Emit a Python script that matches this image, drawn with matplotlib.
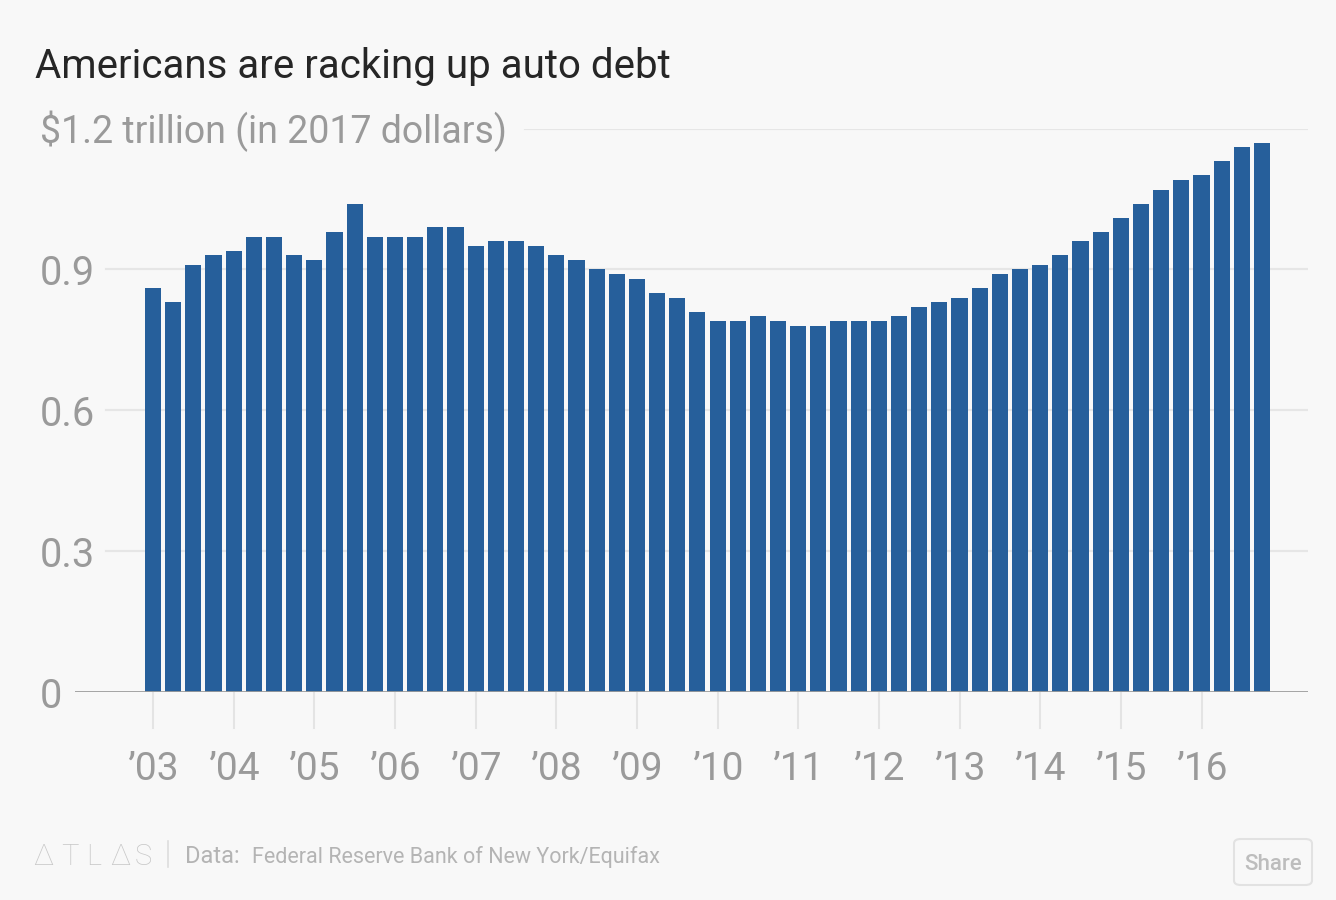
import matplotlib
matplotlib.use("Agg")
import matplotlib.pyplot as plt
from matplotlib.patches import FancyBboxPatch
import numpy as np

# ---- data ----
quarters = [f"{y} Q{q}" for y in range(2003, 2017) for q in range(1, 5)]
debt = [
    0.86, 0.83, 0.91, 0.93, 0.94, 0.97, 0.97, 0.93,
    0.92, 0.98, 1.04, 0.97, 0.97, 0.97, 0.99, 0.99,
    0.95, 0.96, 0.96, 0.95, 0.93, 0.92, 0.90, 0.89,
    0.88, 0.85, 0.84, 0.81, 0.79, 0.79, 0.80, 0.79,
    0.78, 0.78, 0.79, 0.79, 0.79, 0.80, 0.82, 0.83,
    0.84, 0.86, 0.89, 0.90, 0.91, 0.93, 0.96, 0.98,
    1.01, 1.04, 1.07, 1.09, 1.10, 1.13, 1.16, 1.17,
]
year_labels = ["’03", "’04", "’05", "’06", "’07", "’08", "’09", "’10",
               "’11", "’12", "’13", "’14", "’15", "’16"]
y_ticks = [0, 0.3, 0.6, 0.9, 1.2]
y_tick_labels = ["0", "0.3", "0.6", "0.9", "$1.2 trillion (in 2017 dollars)"]

title = "Americans are racking up auto debt"
source = "Federal Reserve Bank of New York/Equifax"

# ---- style ----
W, H = 1336, 900
BG = "#f8f8f8"
BAR = "#265f9b"
GRID = "#e6e6e6"
TICKC = "#9a9a9a"
FONT = "Roboto"

fig = plt.figure(figsize=(W / 100, H / 100), dpi=100, facecolor=BG)

def fx(px):
    return px / W

def fy(py):
    return 1 - py / H

ax_left, ax_right = 75, 1308
ax_top, ax_bot = 128.5, 692
ax = fig.add_axes([fx(ax_left), fy(ax_bot), fx(ax_right - ax_left), (ax_bot - ax_top) / H])
ax.set_facecolor(BG)

x = np.arange(len(debt))
spacing = (1262 - 153) / 55.0
xl = -(153 - ax_left) / spacing
xr = 55 + (ax_right - 1262) / spacing
ax.set_xlim(xl, xr)
ax.set_ylim(0, 1.2)

for s in ax.spines.values():
    s.set_visible(False)
ax.set_xticks([])
ax.set_yticks([])

# gridlines
for v in y_ticks:
    if v == 0:
        continue
    start_px = 525 if v == 1.2 else 106
    xmin = (start_px - ax_left) / (ax_right - ax_left)
    ax.axhline(v, xmin=xmin, xmax=1, color=GRID, lw=1.6, zorder=0)

ax.bar(x, debt, width=0.8, color=BAR, zorder=2)
ax.axhline(0, color="#9c9c9c", lw=2, zorder=3)

# y tick labels
for v, lab in zip(y_ticks, y_tick_labels):
    fs = 27 if v == 1.2 else 28.5
    yy = ax_bot - (v / 1.2) * (ax_bot - ax_top)
    if v == 1.2:
        yy -= 2
    fig.text(fx(40), fy(yy), lab,
             ha="left", va="center_baseline", fontsize=fs, color=TICKC,
             family=FONT)

# x ticks (year starts)
for i, lab in enumerate(year_labels):
    xi = i * 4
    ax.plot([xi, xi], [0, -0.077], color="#e4e4e4", lw=1.5, clip_on=False, zorder=1)
    ax.text(xi, -0.157, lab, ha="center", va="center_baseline", fontsize=28,
            color=TICKC, family=FONT, transform=ax.transData)

# title
fig.text(fx(35), fy(62), title, ha="left", va="center_baseline", fontsize=29,
         color="#262626", family=FONT)

# footer
logo_x = [33, 61, 86, 110, 135]
for lx, ch in zip(logo_x, "ΔTLΔS"):
    fig.text(fx(lx), fy(854), ch, ha="left", va="center_baseline",
             fontsize=21, color="#c8c8c8", family=[FONT, "DejaVu Sans"], fontweight="light")
fig.add_artist(plt.Line2D([fx(168), fx(168)], [fy(841), fy(867)], color="#dddddd", lw=1.2))
fig.text(fx(185), fy(854), "Data:", ha="left", va="center_baseline", fontsize=17,
         color="#b4b4b4", family=FONT)
fig.text(fx(252), fy(854), source, ha="left", va="center_baseline", fontsize=15.5,
         color="#b4b4b4", family=FONT)

# share button
btn = FancyBboxPatch((fx(1234), fy(885)), fx(78), 46 / H,
                     boxstyle="round,pad=0,rounding_size=0.005",
                     transform=fig.transFigure, facecolor=BG, edgecolor="#e2e2e2", lw=1.5)
fig.add_artist(btn)
fig.text(fx(1273), fy(862), "Share", ha="center", va="center_baseline", fontsize=16,
         color="#bdbdbd", family=FONT, fontweight="medium")

fig.savefig("out.png", dpi=100, facecolor=BG)
